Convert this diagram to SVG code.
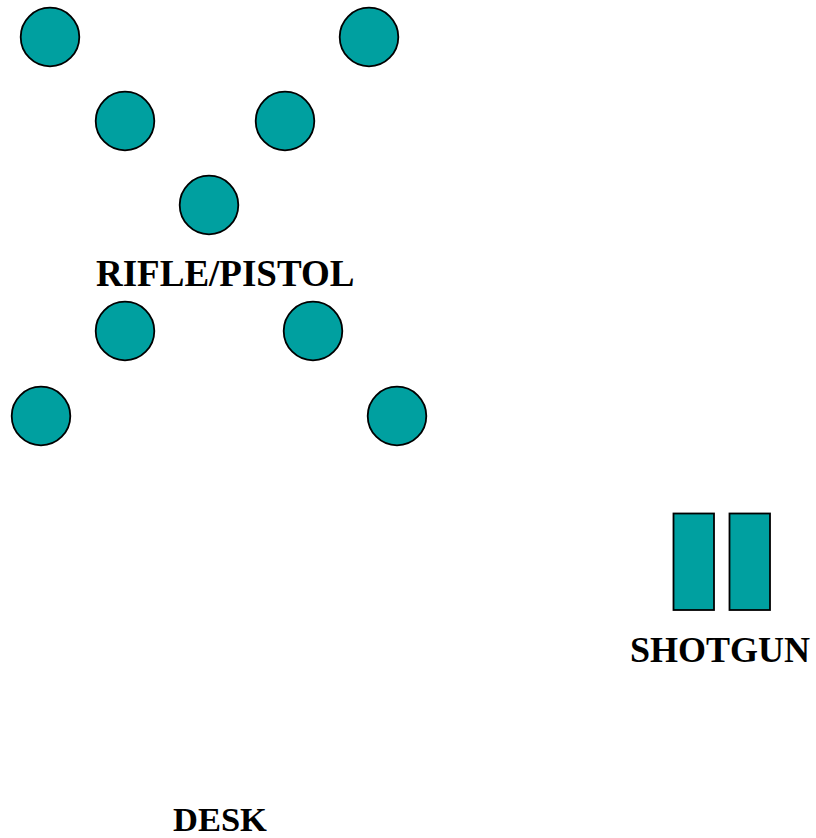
<svg xmlns="http://www.w3.org/2000/svg" width="816" height="838" viewBox="0 0 816 838">
<style>
.t{fill:#00A0A0;stroke:#000;stroke-width:1.8}
.l{font-family:"Liberation Serif","Times New Roman",serif;font-weight:bold;font-size:37px;fill:#000}
</style>
<rect width="816" height="838" fill="#fff"/>
<g id="targets-rifle">
<circle class="t" cx="50" cy="37" r="29.3"/>
<circle class="t" cx="369" cy="37" r="29.3"/>
<circle class="t" cx="125" cy="121" r="29.3"/>
<circle class="t" cx="285" cy="121" r="29.3"/>
<circle class="t" cx="209" cy="205" r="29.3"/>
<circle class="t" cx="125" cy="331" r="29.3"/>
<circle class="t" cx="313" cy="331" r="29.3"/>
<circle class="t" cx="41" cy="416" r="29.3"/>
<circle class="t" cx="397" cy="416" r="29.3"/>
</g>
<g id="label-rifle"><text class="l" x="96" y="286">RIFLE/PISTOL</text></g>
<g id="targets-shotgun">
<rect class="t" x="673.5" y="513.5" width="40.5" height="96.5"/>
<rect class="t" x="729.5" y="513.5" width="40.5" height="96.5"/>
</g>
<g id="label-shotgun"><text class="l" x="630" y="662" style="font-size:36px">SHOTGUN</text></g>
<g id="label-desk"><text class="l" x="173" y="831" style="font-size:34.5px">DESK</text></g>
<g id="connectors"/>
</svg>
